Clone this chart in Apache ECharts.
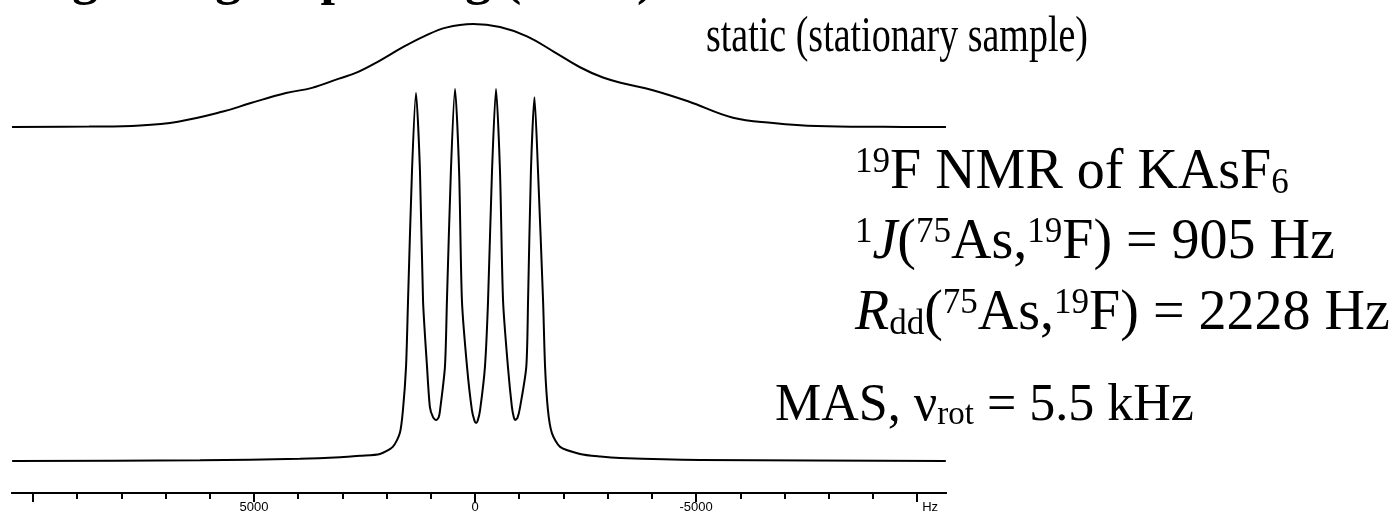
<!DOCTYPE html>
<html>
<head>
<meta charset="utf-8">
<script src="https://cdn.jsdelivr.net/npm/echarts@6/dist/echarts.min.js"></script>
<style>
html,body{margin:0;padding:0;background:#fff;}
#chart{width:1398px;height:514px;}
</style>
</head>
<body>
<div id="chart"></div>
<script>
// ---- data (frequency in Hz, intensity normalised to 100) ----
const staticHz  = [10473, 8731, 7577, 6718, 5700, 5090, 4275, 3687, 3076, 2669, 2171, 1651, 1154, 656, 45, -566, -1176, -1787, -2375, -2895, -3393, -4004, -4818, -5836, -6741, -7736, -9229, -10654];
const staticInt = [0, 0.4, 1.5, 5.2, 15, 23, 33, 38, 47, 53, 64, 77, 88, 96.5, 100, 97, 88, 73, 58, 48, 42, 36, 25, 9, 4, 1, 0.2, 0];

const masHz  = [10470, 6220, 3960, 3050, 2600, 2150, 1860, 1700, 1630, 1560, 1515, 1425, 1335, 1245, 1175, 1085, 1020, 950, 880, 820, 790, 680, 635, 545, 452, 360, 295, 180, 70, 10, -25, -60, -115, -225, -295, -385, -475, -565, -635, -745, -835, -880, -905, -960, -1020, -1160, -1200, -1265, -1345, -1425, -1540, -1585, -1650, -1740, -1925, -2375, -2830, -3280, -5090, -10650];
const masInt = [0, 0.2, 0.6, 1.0, 1.4, 1.9, 3.8, 7.5, 13.7, 25.3, 43, 78, 98.9, 78, 43, 25.3, 14.5, 11.8, 11, 11.8, 13.7, 25.3, 43, 78, 100, 78, 43, 25.3, 13.7, 10.8, 10.2, 10.8, 13.7, 25.3, 43, 78, 100, 78, 43, 25.3, 14.5, 11.6, 11, 11.6, 14.5, 25.3, 43, 78, 97.8, 78, 43, 25.3, 13.7, 7.5, 3.8, 1.9, 1.2, 0.8, 0.3, 0];

const minorTicks = [10000, 9000, 8000, 7000, 6000, 5000, 4000, 3000, 2000, 1000, 0, -1000, -2000, -3000, -4000, -5000, -6000, -7000, -8000, -9000, -10000];
const majorTicks = [10000, 5000, 0, -5000, -10000];
const tickLabels = [5000, 0, -5000, -10000];
const unitLabel = 'Hz';

const titleText = 'Magic Angle Spinning (MAS)';
const staticLabel = 'static (stationary sample)';

// ---- chart ----
const xMin = -10654, xMax = 10473;
const chart = echarts.init(document.getElementById('chart'), null, {renderer: 'canvas'});

const serif = '"Liberation Serif", "Times New Roman", serif';
function richStyles(fs, supLH, subLH) {
  const sfs = Math.round(fs * 0.63);
  return {
    m:   {fontSize: fs, fontFamily: serif, lineHeight: fs, verticalAlign: 'middle', fill: '#000'},
    mi:  {fontSize: fs, fontFamily: serif, fontStyle: 'italic', lineHeight: fs, verticalAlign: 'middle', fill: '#000'},
    sup: {fontSize: sfs, fontFamily: serif, lineHeight: supLH, verticalAlign: 'top', fill: '#000'},
    sub: {fontSize: sfs, fontFamily: serif, lineHeight: subLH, verticalAlign: 'bottom', fill: '#000'}
  };
}
function richText(x, y, text, fs, supLH, subLH) {
  return {type: 'text', x: x, y: y, silent: true,
    style: {text: text, rich: richStyles(fs, supLH, subLH), align: 'left', verticalAlign: 'top', fill: '#000', font: fs + 'px ' + serif}};
}

const axisCommon = {
  type: 'value', inverse: true, min: xMin, max: xMax,
  splitLine: {show: false}
};

chart.setOption({
  animation: false,
  backgroundColor: '#fff',
  grid: [
    {left: 12, width: 934, top: 24, height: 103},
    {left: 12, width: 934, top: 89, height: 372}
  ],
  xAxis: [
    Object.assign({}, axisCommon, {gridIndex: 0, show: false}),
    Object.assign({}, axisCommon, {
      gridIndex: 1, position: 'bottom', offset: 32,
      axisLine: {show: true, onZero: false, lineStyle: {color: '#000', width: 2}},
      axisTick: {show: true, customValues: minorTicks, length: 6, lineStyle: {color: '#000', width: 2}},
      axisLabel: {show: false}
    }),
    Object.assign({}, axisCommon, {
      gridIndex: 1, position: 'bottom', offset: 32,
      axisLine: {show: true, onZero: false, lineStyle: {color: '#000', width: 2}},
      axisTick: {show: true, customValues: majorTicks, length: 9, lineStyle: {color: '#000', width: 2}},
      axisLabel: {
        show: true, customValues: tickLabels, margin: 8, color: '#000',
        fontSize: 13, fontFamily: '"Liberation Sans", Arial, sans-serif',
        formatter: function (v) { return v === -10000 ? '{hz|' + unitLabel + '}' : String(v); },
        rich: {hz: {fontSize: 13, fontFamily: '"Liberation Sans", Arial, sans-serif', color: '#000', padding: [0, 0, 0, 26]}}
      }
    })
  ],
  yAxis: [
    {type: 'value', gridIndex: 0, min: 0, max: 100, show: false, splitLine: {show: false}},
    {type: 'value', gridIndex: 1, min: 0, max: 100, show: false, splitLine: {show: false}}
  ],
  series: [
    {type: 'line', xAxisIndex: 0, yAxisIndex: 0, data: staticHz.map((h, i) => [h, staticInt[i]]),
     symbol: 'none', smooth: 0.4, clip: false, silent: true,
     lineStyle: {color: '#000', width: 2}},
    {type: 'line', xAxisIndex: 1, yAxisIndex: 1, data: masHz.map((h, i) => [h, masInt[i]]),
     symbol: 'none', smooth: 0.25, clip: false, silent: true,
     lineStyle: {color: '#000', width: 2}}
  ],
  graphic: [
    {type: 'text', x: -3, y: -19, silent: true,
     style: {text: titleText, font: 'bold 52px ' + serif, fill: '#000', align: 'left', verticalAlign: 'middle'}},
    {type: 'text', x: 706, y: 38, scaleX: 0.76, silent: true,
     style: {text: staticLabel, font: '50px ' + serif, fill: '#000', align: 'left', verticalAlign: 'middle'}},
    richText(855, 145, '{sup|19}{m|F NMR of KAsF}{sub|6}', 56, 32, 30),
    richText(855, 215, '{sup|1}{mi|J}{m|(}{sup|75}{m|As,}{sup|19}{m|F) = 905 Hz}', 56, 32, 30),
    richText(855, 286, '{mi|R}{sub|dd}{m|(}{sup|75}{m|As,}{sup|19}{m|F) = 2228 Hz}', 56, 32, 30),
    richText(775, 380, '{m|MAS, ν}{sub|rot}{m| = 5.5 kHz}', 52, 30, 27)
  ]
});
</script>
</body>
</html>
